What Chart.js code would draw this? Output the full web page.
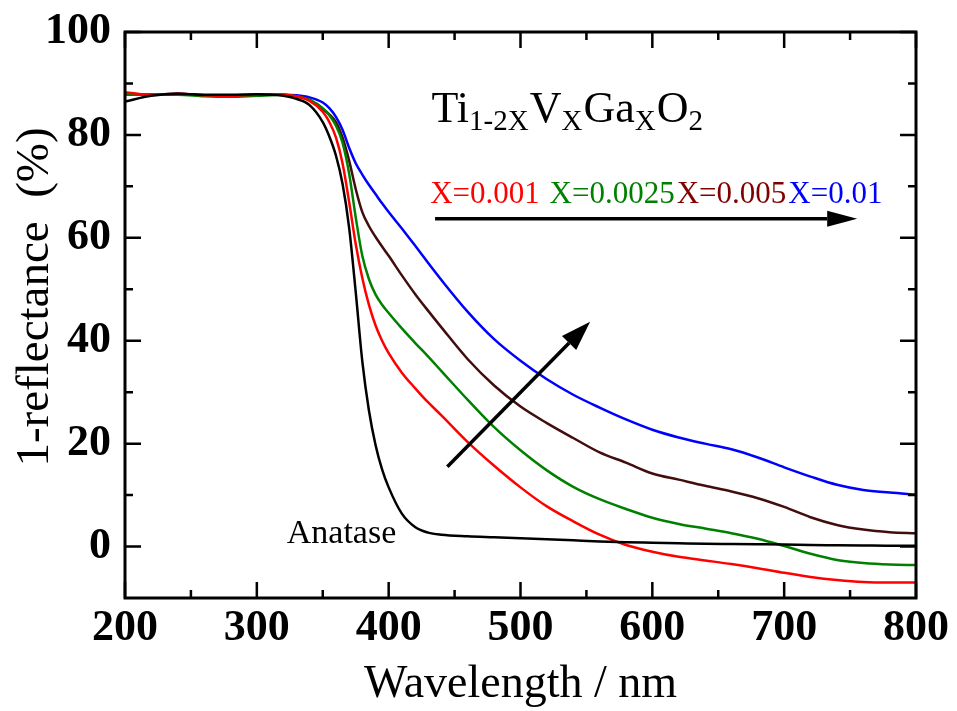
<!DOCTYPE html>
<html lang="en">
<head>
<meta charset="utf-8">
<title>1-reflectance spectra</title>
<script src="https://cdn.jsdelivr.net/npm/chart.js@4.4.0/dist/chart.umd.min.js"></script>
<style>
html, body { margin: 0; padding: 0; background: #fff; }
#wrap { width: 957px; height: 711px; }
</style>
</head>
<body>
<div id="wrap"><canvas id="chart" width="957" height="711"></canvas></div>
<script>
// wavelength grid (nm) shared by every spectrum
const wavelength = [200, 220, 240, 260, 280, 300, 320, 330, 340, 350, 355, 360, 365, 370, 375, 380, 385, 390, 395, 400,
                    410, 420, 430, 440, 460, 480, 500, 520, 540, 560, 580, 600, 620, 640, 660, 680, 700, 720, 740, 760, 780, 800];

// 1-reflectance (%)
const anatase = [86.5, 87.6, 88.0, 87.8, 87.8, 87.9, 87.6, 87.0, 85.8, 82.5, 79.7, 76.0, 70.5, 62.0, 49.5, 36.0, 26.5, 19.8, 15.0, 11.5,
                 6.4, 3.8, 2.7, 2.3, 2.0, 1.8, 1.6, 1.4, 1.2, 1.0, 0.85, 0.75, 0.65, 0.55, 0.5, 0.45, 0.4, 0.3, 0.25, 0.2, 0.15, 0.15];
const x0010 = [88.3, 87.8, 88.0, 87.7, 87.6, 87.8, 87.8, 87.5, 86.6, 84.5, 82.5, 79.5, 74.5, 67.0, 58.8, 52.2, 47.0, 43.0, 40.0, 37.6,
               33.8, 30.8, 28.0, 25.5, 20.3, 15.7, 11.5, 7.8, 4.9, 2.3, 0.3, -1.0, -2.0, -2.7, -3.4, -4.2, -5.1, -5.9, -6.5, -6.9, -7.0, -7.0];
const x0025 = [87.8, 87.8, 87.8, 87.5, 87.4, 87.6, 87.8, 87.5, 86.8, 85.2, 83.8, 81.8, 78.5, 72.5, 64.0, 56.5, 52.0, 49.0, 47.0, 45.4,
               42.4, 39.6, 36.9, 34.1, 28.5, 23.2, 18.7, 14.8, 11.6, 9.2, 7.3, 5.6, 4.4, 3.5, 2.6, 1.5, 0.1, -1.4, -2.6, -3.2, -3.5, -3.6];
const x0050 = [87.8, 87.8, 88.0, 87.7, 87.6, 87.8, 87.8, 87.5, 86.8, 85.0, 84.0, 82.5, 79.5, 75.0, 69.5, 65.0, 62.3, 60.2, 58.3, 56.5,
               52.7, 49.1, 45.8, 42.6, 36.4, 31.3, 27.2, 24.0, 21.1, 18.3, 16.3, 14.2, 13.0, 11.8, 10.7, 9.4, 7.7, 5.7, 4.2, 3.3, 2.8, 2.6];
const x0100 = [88.0, 87.8, 88.0, 87.7, 87.6, 87.8, 87.8, 87.7, 87.3, 86.3, 85.2, 83.5, 81.0, 77.5, 74.5, 72.3, 70.3, 68.5, 66.7, 65.0,
               61.8, 58.5, 55.1, 51.8, 45.6, 40.3, 36.1, 32.5, 29.5, 27.0, 24.7, 22.7, 21.2, 20.0, 18.9, 17.3, 15.4, 13.6, 12.0, 11.0, 10.5, 10.1];

const seriesNames = ['Anatase', 'X=0.001', 'X=0.0025', 'X=0.005', 'X=0.01'];
const seriesValues = [anatase, x0010, x0025, x0050, x0100];
const lineColors = ['#000000', '#ff0000', '#008000', '#420d0d', '#0000ff'];
const labelColors = ['#000000', '#ff0000', '#008000', '#800000', '#0000ff'];

const xTicks = [200, 300, 400, 500, 600, 700, 800];
const xMinor = [250, 350, 450, 550, 650, 750];
const yTicks = [0, 20, 40, 60, 80, 100];
const yMinor = [10, 30, 50, 70, 90];

const serif = '"Liberation Serif", "Times New Roman", serif';

// frame, inward ticks on all four sides, axis titles and annotations
const decorations = {
  id: 'decorations',
  afterDatasetsDraw(chart) {
    const {ctx, chartArea: a, scales: {x, y}} = chart;
    ctx.save();
    ctx.strokeStyle = '#000';
    ctx.fillStyle = '#000';

    ctx.lineWidth = 3;
    ctx.strokeRect(a.left, a.top, a.right - a.left, a.bottom - a.top);

    ctx.lineWidth = 2.5;
    ctx.beginPath();
    const tx = (v, len) => {
      const p = x.getPixelForValue(v);
      ctx.moveTo(p, a.bottom); ctx.lineTo(p, a.bottom - len);
      ctx.moveTo(p, a.top); ctx.lineTo(p, a.top + len);
    };
    const ty = (v, len) => {
      const p = y.getPixelForValue(v);
      ctx.moveTo(a.left, p); ctx.lineTo(a.left + len, p);
      ctx.moveTo(a.right, p); ctx.lineTo(a.right - len, p);
    };
    xTicks.forEach(v => tx(v, 16));
    xMinor.forEach(v => tx(v, 8));
    yTicks.forEach(v => ty(v, 16));
    yMinor.forEach(v => ty(v, 8));
    ctx.stroke();

    // axis titles
    ctx.textAlign = 'center';
    ctx.textBaseline = 'alphabetic';
    ctx.font = '46px ' + serif;
    ctx.fillText('Wavelength / nm', (a.left + a.right) / 2, 697);
    ctx.save();
    ctx.font = '47px ' + serif;
    ctx.translate(48, 297);
    ctx.rotate(-Math.PI / 2);
    ctx.fillText('1-reflectance  (%)', 0, 0);
    ctx.restore();

    // formula with subscripts
    ctx.textAlign = 'left';
    let px = x.getPixelForValue(432.5);
    const base = y.getPixelForValue(82.5);
    const runs = [['Ti', 0], ['1-2X', 1], ['V', 0], ['X', 1], ['Ga', 0], ['X', 1], ['O', 0], ['2', 1]];
    runs.forEach(([t, sub]) => {
      ctx.font = (sub ? '29px ' : '44px ') + serif;
      ctx.fillText(t, px, sub ? base + 8 : base);
      px += ctx.measureText(t).width + (sub ? 1 : 0);
    });

    // composition labels
    ctx.font = '31px ' + serif;
    px = x.getPixelForValue(431.5);
    const ly = y.getPixelForValue(66.7);
    for (let i = 1; i < seriesNames.length; i++) {
      const t = seriesNames[i] + (i === 1 ? ' ' : '');
      ctx.fillStyle = labelColors[i];
      ctx.fillText(t, px, ly);
      px += ctx.measureText(t).width + 2;
    }
    ctx.fillStyle = '#000';

    ctx.font = '34px ' + serif;
    ctx.fillText('Anatase', x.getPixelForValue(322.7), y.getPixelForValue(0.7));

    // arrows
    const arrow = (x1, y1, x2, y2, head, half) => {
      const ax = x.getPixelForValue(x1), ay = y.getPixelForValue(y1);
      const bx = x.getPixelForValue(x2), by = y.getPixelForValue(y2);
      const ang = Math.atan2(by - ay, bx - ax);
      const cx = bx - head * Math.cos(ang), cy = by - head * Math.sin(ang);
      ctx.lineWidth = 3.5;
      ctx.beginPath();
      ctx.moveTo(ax, ay); ctx.lineTo(cx, cy);
      ctx.stroke();
      ctx.beginPath();
      ctx.moveTo(bx, by);
      ctx.lineTo(cx + half * Math.sin(ang), cy - half * Math.cos(ang));
      ctx.lineTo(cx - half * Math.sin(ang), cy + half * Math.cos(ang));
      ctx.closePath();
      ctx.fill();
    };
    arrow(435.2, 63.7, 755.4, 63.7, 30, 8);
    arrow(444.5, 15.5, 552.8, 43.7, 30, 10);

    ctx.restore();
  }
};

const datasets = seriesValues.map((vals, i) => ({
  label: seriesNames[i],
  data: wavelength.map((w, j) => ({x: w, y: vals[j]})),
  borderColor: lineColors[i],
  borderWidth: 2.5,
  pointRadius: 0,
  cubicInterpolationMode: 'monotone',
  fill: false
}));

const tickFont = {family: serif, size: 44, weight: 'bold'};

new Chart(document.getElementById('chart'), {
  type: 'line',
  data: {datasets: datasets},
  options: {
    responsive: false,
    animation: false,
    layout: {padding: {top: 32, right: 41, left: 0, bottom: 0}},
    plugins: {legend: {display: false}, tooltip: {enabled: false}},
    scales: {
      x: {
        type: 'linear', min: 200, max: 800,
        afterBuildTicks: s => { s.ticks = xTicks.map(v => ({value: v})); },
        afterFit: s => { s.height = 113; s.paddingLeft = 0; s.paddingRight = 0; },
        grid: {display: false, drawTicks: false},
        border: {display: false},
        ticks: {font: tickFont, color: '#000', padding: 4, maxRotation: 0}
      },
      y: {
        type: 'linear', min: -10, max: 100,
        afterBuildTicks: s => { s.ticks = yTicks.map(v => ({value: v})); },
        afterFit: s => { s.width = 125; s.paddingTop = 0; s.paddingBottom = 0; },
        grid: {display: false, drawTicks: false},
        border: {display: false},
        ticks: {font: tickFont, color: '#000', padding: 14}
      }
    }
  },
  plugins: [decorations]
});
</script>
</body>
</html>
